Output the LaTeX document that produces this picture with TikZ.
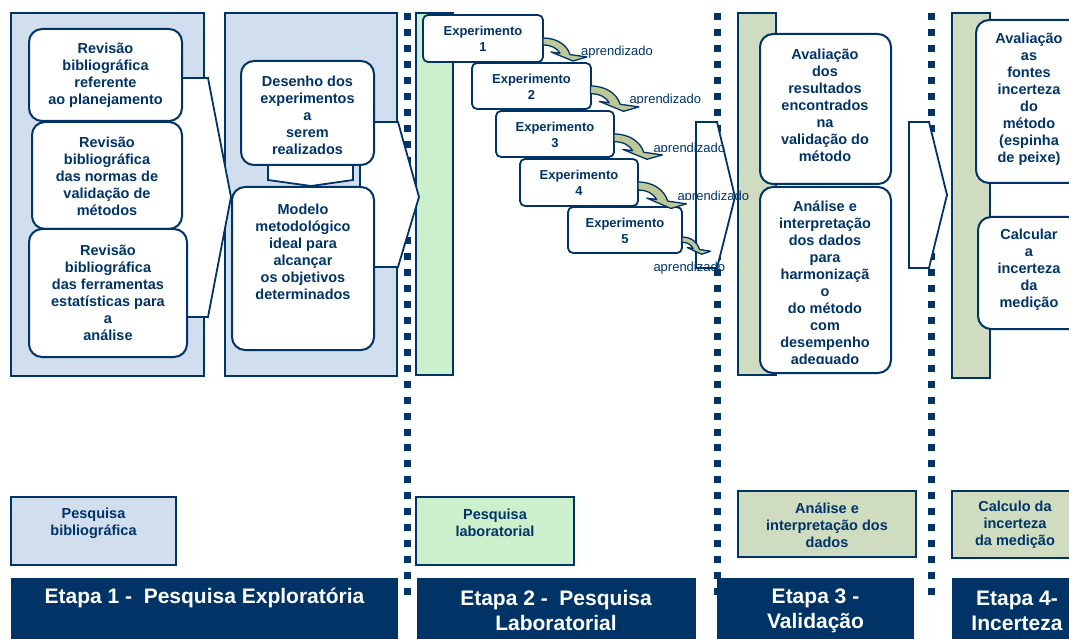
\documentclass[tikz,border=0pt]{standalone}
\usepackage{fontspec}
\setmainfont{Liberation Sans}
\definecolor{navy}{HTML}{003366}
\definecolor{lblue}{HTML}{D0DEEE}
\definecolor{lgreen}{HTML}{CCF0CC}
\definecolor{sage}{HTML}{D0DCC0}
\definecolor{arrowsage}{HTML}{BDC896}
\newcommand\lrnarrow[4]{%
  \begin{scope}[shift={(#1,#2)},xscale=#3,yscale=#4]
    \path[curvarr] (0,0) .. controls (14,0) and (24,7) .. (27,16.6) -- (44,19) -- (30,23) -- (8,14) -- (17,15.25) .. controls (14,10) and (8,7) .. (0,7) -- cycle;
  \end{scope}}
\begin{document}
\begin{tikzpicture}[x=1pt,y=-1pt,
  panel/.style={draw=navy,line width=1.5pt,fill=lblue},
  bar/.style={draw=navy,line width=1.5pt},
  rbox/.style={draw=navy,line width=2pt,fill=white,rounded corners=13pt},
  ebox/.style={draw=navy,line width=1.8pt,fill=white,rounded corners=5pt},
  sbox/.style={draw=navy,line width=1.5pt},
  btxt/.style={text=navy,font=\bfseries\fontsize{14.5}{17}\selectfont,align=center,inner sep=0pt},
  etxt/.style={text=navy,font=\bfseries\fontsize{13}{16}\selectfont,align=center,inner sep=0pt},
  ltxt/.style={text=navy,font=\fontsize{13}{15}\selectfont,inner sep=0pt,anchor=west},
  stxt/.style={text=white,font=\bfseries\fontsize{21}{25}\selectfont,align=center,inner sep=0pt},
  dots/.style={draw=navy,line width=7pt,dash pattern=on 7pt off 8.97pt},
  bigarrow/.style={draw=navy,line width=1.8pt,fill=white,line join=miter},
  curvarr/.style={draw=navy,line width=1.3pt,fill=arrowsage,line join=round},
]
\useasboundingbox (0,0) rectangle (1069,639);
\clip (0,0) rectangle (1069,639);

% panels and bars
\path[panel] (11,13) rectangle (204,376);
\path[panel] (225,13) rectangle (397,376);
\path[bar,fill=lgreen] (416,13) rectangle (453,375);
\path[bar,fill=sage] (738,13) rectangle (776,375);
\path[bar,fill=sage] (952,13) rectangle (990,378);

% dotted separators
\coordinate (d1a) at (407,13.3); \coordinate (d1b) at (407,596);
\coordinate (d2a) at (717,13.3); \coordinate (d2b) at (717,596);
\coordinate (d3a) at (931.3,13.3); \coordinate (d3b) at (931.3,596);
\draw[dots] (d1a) -- (d1b);
\draw[dots] (d2a) -- (d2b);
\draw[dots] (d3a) -- (d3b);

% block arrows
\path[bigarrow] (150,78) -- (208,78) -- (231,197) -- (208,317) -- (150,317) -- cycle;
\path[bigarrow] (268,150) -- (353,150) -- (353,180) -- (311,186) -- (268,180) -- cycle;
\path[bigarrow] (360,122) -- (398,122) -- (419,197) -- (398,267) -- (360,267) -- cycle;
\path[bigarrow] (696,122) -- (717,122) -- (735,197) -- (717,268) -- (696,268) -- cycle;
\path[bigarrow] (909,122) -- (929,122) -- (947,195) -- (929,268) -- (909,268) -- cycle;

% stage 1 boxes
\path[rbox] (29,29) rectangle (182,121);
\node[btxt] (r1) at (105.5,75) {Revisão\\bibliográfica\\referente\\ao planejamento};
\path[rbox] (32,122) rectangle (182,229);
\node[btxt] (r2) at (107,176) {Revisão\\bibliográfica\\das normas de\\validação de\\métodos};
\path[rbox] (29,229) rectangle (187,357);
\node[btxt] (r3) at (108,293) {Revisão\\bibliográfica\\das ferramentas\\estatísticas para\\a\\análise};

\path[rbox] (241,61) rectangle (374,165);
\node[btxt] (des) at (307.5,115) {Desenho dos\\experimentos\\a\\serem\\realizados};
\path[rbox] (232,187) rectangle (374,350);
\node[btxt] (mod) at (303,251.5) {Modelo\\metodológico\\ideal para\\alcançar\\os objetivos\\determinados};

% experiments
\path[ebox] (423,15) rectangle (543,62);
\node[etxt] (e1) at (483,39) {Experimento\\1};
\path[ebox] (472,63) rectangle (591,109);
\node[etxt] (e2) at (531.5,87) {Experimento\\2};
\path[ebox] (496,111) rectangle (614,157);
\node[etxt] (e3) at (555,135) {Experimento\\3};
\path[ebox] (520,159) rectangle (638,206);
\node[etxt] (e4) at (579,182.5) {Experimento\\4};
\path[ebox] (568,207) rectangle (682,253);
\node[etxt] (e5) at (625,230.5) {Experimento\\5};

\lrnarrow{543}{38}{1}{1}
\lrnarrow{590.5}{86}{1.1}{1.1}
\lrnarrow{614}{134}{1.1}{1.1}
\lrnarrow{638}{182}{1.1}{1.15}
\lrnarrow{682}{237}{0.65}{0.75}

\node[ltxt] (a1) at (581,52) {aprendizado};
\begin{scope}
  \clip (620,85) rectangle (720,103.5);
  \node[ltxt] (a2) at (629.3,100) {aprendizado};
\end{scope}
\begin{scope}
  \clip (640,135) rectangle (740,151.7);
  \node[ltxt] (a3) at (653.3,149.3) {aprendizado};
\end{scope}
\begin{scope}
  \clip (670,183) rectangle (760,200);
  \node[ltxt] (a4) at (677.3,196.7) {aprendizado};
\end{scope}
\node[ltxt] (a5) at (653.3,268.3) {aprendizado};

% stage 3 boxes
\path[rbox] (760,34) rectangle (891,184);
\node[btxt] (av) at (825,105.5) {Avaliação\\dos\\resultados\\encontrados\\na\\validação do\\método};
\path[rbox] (760,187) rectangle (891,373);
\begin{scope}
  \clip (760,187) rectangle (891,363);
  \node[btxt] (an) at (825,284) {Análise e\\interpretação\\dos dados\\para\\harmonizaçã\\o\\do método\\com\\desempenho\\adequado};
\end{scope}

% stage 4 boxes
\path[rbox] (976,20) rectangle (1082,183);
\node[btxt] (fo) at (1029,99) {Avaliação\\as\\fontes\\incerteza\\do\\método\\(espinha\\de peixe)};
\path[rbox] (978,217) rectangle (1082,329);
\node[btxt] (ca) at (1029,270) {Calcular\\a\\incerteza\\da\\medição};

% bottom category boxes
\path[sbox,fill=lblue] (11,497) rectangle (176,565);
\node[btxt] (pb) at (93.5,523) {Pesquisa\\bibliográfica};
\path[sbox,fill=lgreen] (416,497) rectangle (574,565);
\node[btxt] (pl) at (495,522.5) {Pesquisa\\laboratorial};
\path[sbox,fill=sage] (738,491) rectangle (916,557);
\node[btxt] (pa) at (827,525) {Análise e\\interpretação dos\\dados};
\path[sbox,fill=sage] (952,491) rectangle (1080,558);
\node[btxt] (pc) at (1015,525) {Calculo da\\incerteza\\da medição};

% stage bars
\fill[navy] (11,578) rectangle (398,645);
\node[stxt] (s1) at (204.5,598) {Etapa 1 -\ \ Pesquisa Exploratória};
\fill[navy] (417,578) rectangle (696,645);
\node[stxt] (s2) at (556,610.5) {Etapa 2 -\ \ Pesquisa\\Laboratorial};
\fill[navy] (717,578) rectangle (914,645);
\node[stxt] (s3) at (815.5,610.5) {Etapa 3 -\\Validação};
\fill[navy] (952,578) rectangle (1085,645);
\node[stxt] (s4) at (1017,610.5) {Etapa 4-\\Incerteza};
\end{tikzpicture}
\end{document}
